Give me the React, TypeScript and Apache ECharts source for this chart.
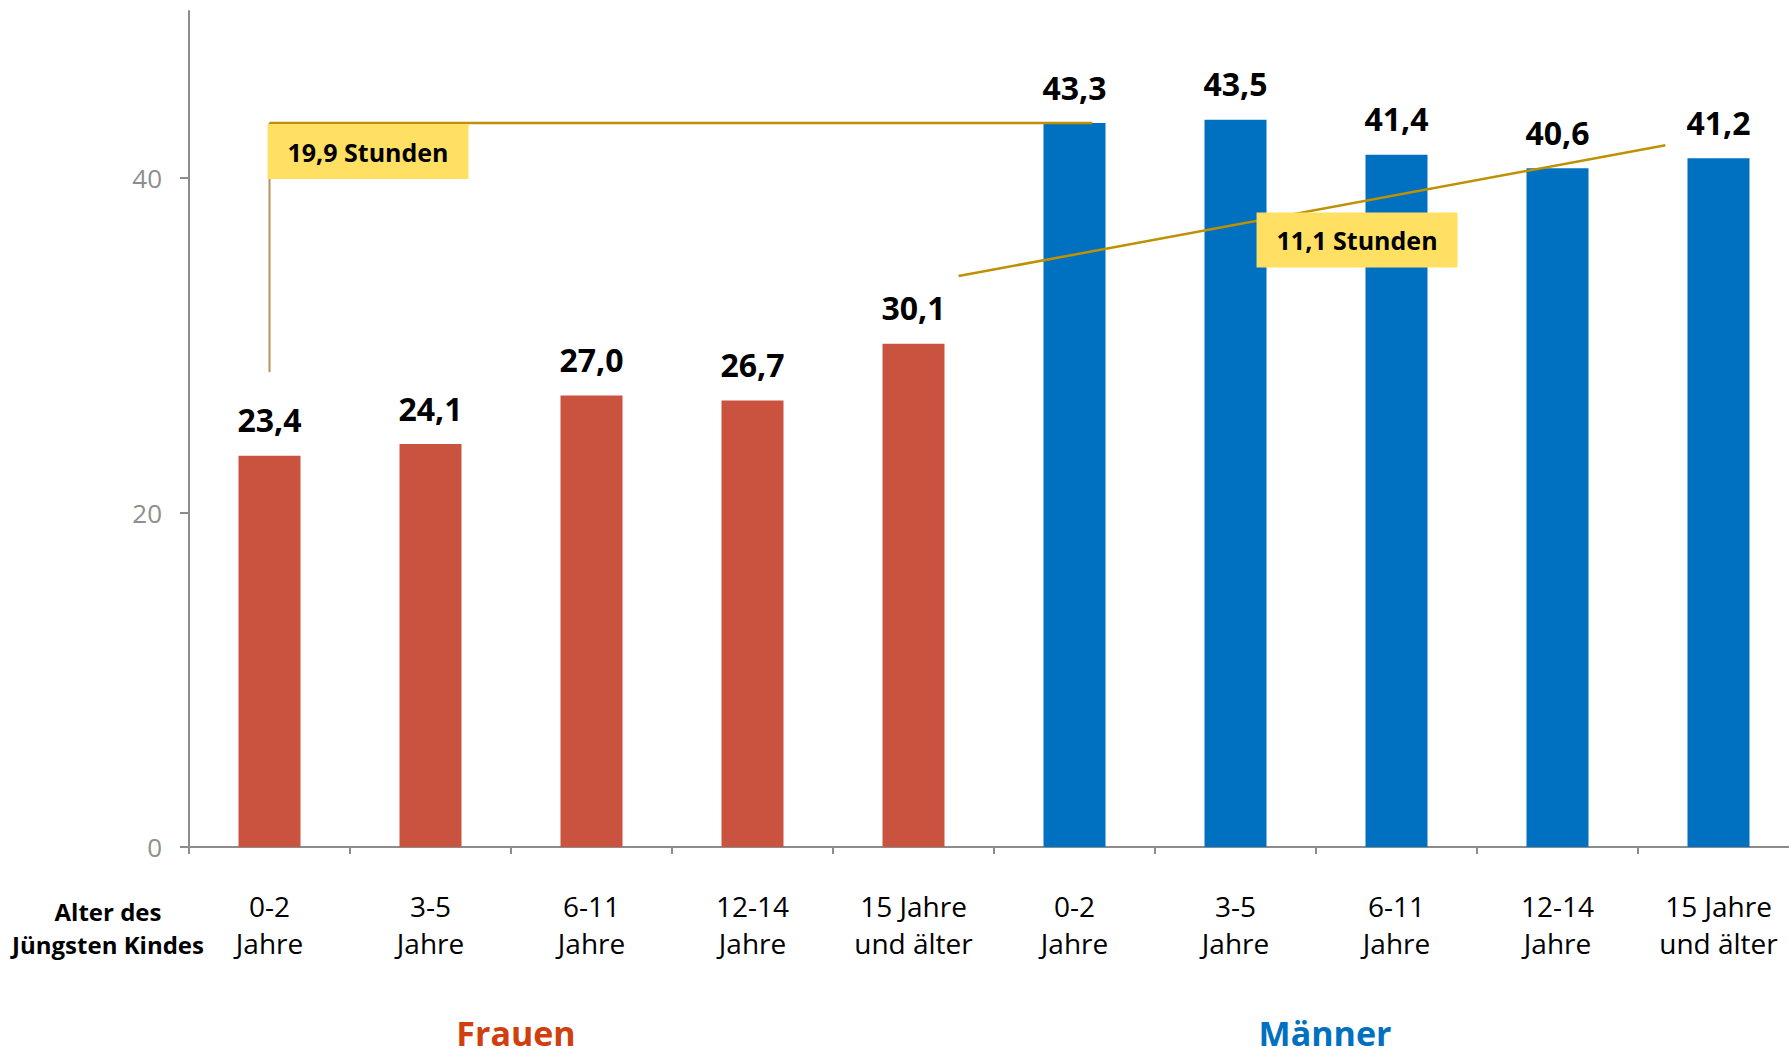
import React, { useEffect, useRef } from 'react';
import * as echarts from 'echarts';

const groups = ['Frauen', 'Männer'];
const ageLabels = ['0-2\nJahre', '3-5\nJahre', '6-11\nJahre', '12-14\nJahre', '15 Jahre\nund älter'];
const frauenValues = [23.4, 24.1, 27.0, 26.7, 30.1];
const maennerValues = [43.3, 43.5, 41.4, 40.6, 41.2];
const yTicks = [0, 20, 40];
const axisTitle = 'Alter des\nJüngsten Kindes';
const gapBracket = { label: '19,9 Stunden', fromCat: 0, fromValue: 28.4, toCat: 5.11, toValue: 43.3 };
const gapSlope = { label: '11,1 Stunden', fromCat: 4.28, fromValue: 34.15, toCat: 8.67, toValue: 41.97, boxCat: 6.755, boxValue: 36.3 };

const RED = '#C9533E';
const BLUE = '#0070C0';
const GOLD = '#BF9000';
const BOX = '#FFE063';
const FONT = 'Open Sans';

const categories = groups.flatMap((g) => ageLabels.map((a) => g + '|' + a));
const values = [...frauenValues, ...maennerValues];

export default function App() {
  const ref = useRef<HTMLDivElement>(null);
  useEffect(() => {
    if (!ref.current) return;
    const chart = echarts.init(ref.current, null, { renderer: 'svg' });
    const option: any = {
      animation: false,
      backgroundColor: '#ffffff',
      grid: { left: 189, width: 1610, top: 11, height: 836, containLabel: false, outerBoundsMode: 'none' },
      xAxis: {
        type: 'category',
        data: categories,
        axisLine: { lineStyle: { color: '#8C8C8C', width: 2 } },
        axisTick: { show: true, length: 7, lineStyle: { color: '#8C8C8C', width: 2 } },
        axisLabel: {
          interval: 0,
          margin: 40,
          fontFamily: FONT,
          fontSize: 28,
          lineHeight: 37,
          color: '#000',
          formatter: (v: string) => v.split('|')[1],
        },
      },
      yAxis: {
        type: 'value',
        min: 0,
        max: 50,
        interval: 20,
        splitLine: { show: false },
        axisLine: { show: true, lineStyle: { color: '#8C8C8C', width: 2 } },
        axisTick: { show: true, length: 9, customValues: yTicks, lineStyle: { color: '#8C8C8C', width: 2 } },
        axisLabel: {
          customValues: yTicks,
          margin: 27,
          fontFamily: FONT,
          fontSize: 26,
          color: '#8E8E8E',
        },
      },
      series: [
        {
          type: 'bar',
          data: values,
          barWidth: 62,
          itemStyle: { color: (p: any) => (p.dataIndex < frauenValues.length ? RED : BLUE) },
          label: {
            show: true,
            position: 'top',
            distance: 20,
            fontFamily: FONT,
            fontWeight: 'bold',
            fontSize: 32,
            color: '#000',
            formatter: (p: any) => Number(p.value).toFixed(1).replace('.', ','),
          },
        },
      ],
    };
    chart.setOption(option);

    const p0 = chart.convertToPixel({ gridIndex: 0 }, [0, 0]) as number[];
    const p1 = chart.convertToPixel({ gridIndex: 0 }, [1, 0]) as number[];
    const band = p1[0] - p0[0];
    const px = (cat: number, val: number) => {
      const p = chart.convertToPixel({ gridIndex: 0 }, [0, val]) as number[];
      return [p0[0] + cat * band, p[1]];
    };

    const a0 = px(gapBracket.fromCat, gapBracket.fromValue);
    const a1 = px(gapBracket.fromCat, gapBracket.toValue);
    const a2 = px(gapBracket.toCat, gapBracket.toValue);
    const b0 = px(gapSlope.fromCat, gapSlope.fromValue);
    const b1 = px(gapSlope.toCat, gapSlope.toValue);
    const bc = px(gapSlope.boxCat, gapSlope.boxValue);
    const boxW = 201;
    const boxH = 55;

    chart.setOption({
      graphic: [
        { type: 'line', z: 10, shape: { x1: a0[0], y1: a0[1], x2: a1[0], y2: a1[1] }, style: { stroke: '#B8935A', lineWidth: 2 } },
        { type: 'line', z: 10, shape: { x1: a1[0], y1: a1[1], x2: a2[0], y2: a2[1] }, style: { stroke: GOLD, lineWidth: 2.5 } },
        { type: 'rect', z: 11, shape: { x: a1[0] - 2, y: a1[1] + 1, width: boxW, height: boxH }, style: { fill: BOX } },
        {
          type: 'text', z: 12, x: a1[0] - 2 + boxW / 2, y: a1[1] + 1 + boxH / 2,
          style: { text: gapBracket.label, fill: '#000', font: `bold 25px ${FONT}`, align: 'center', verticalAlign: 'middle' },
        },
        { type: 'line', z: 10, shape: { x1: b0[0], y1: b0[1], x2: b1[0], y2: b1[1] }, style: { stroke: GOLD, lineWidth: 2.5 } },
        { type: 'rect', z: 11, shape: { x: bc[0] - boxW / 2, y: bc[1] - boxH / 2, width: boxW, height: boxH }, style: { fill: BOX } },
        {
          type: 'text', z: 12, x: bc[0], y: bc[1],
          style: { text: gapSlope.label, fill: '#000', font: `bold 25px ${FONT}`, align: 'center', verticalAlign: 'middle' },
        },
        {
          type: 'text', z: 12, x: 108, y: 928,
          style: { text: axisTitle, fill: '#000', font: `bold 24px ${FONT}`, lineHeight: 33, align: 'center', verticalAlign: 'middle' },
        },
        {
          type: 'text', z: 12, x: 516, y: 1033,
          style: { text: groups[0], fill: '#D13F0E', font: `bold 34px ${FONT}`, align: 'center', verticalAlign: 'middle' },
        },
        {
          type: 'text', z: 12, x: 1325, y: 1033,
          style: { text: groups[1], fill: BLUE, font: `bold 34px ${FONT}`, align: 'center', verticalAlign: 'middle' },
        },
      ],
    });

    return () => chart.dispose();
  }, []);
  return <div ref={ref} style={{ position: 'absolute', left: 0, top: 0, width: 1789, height: 1055 }} />;
}
